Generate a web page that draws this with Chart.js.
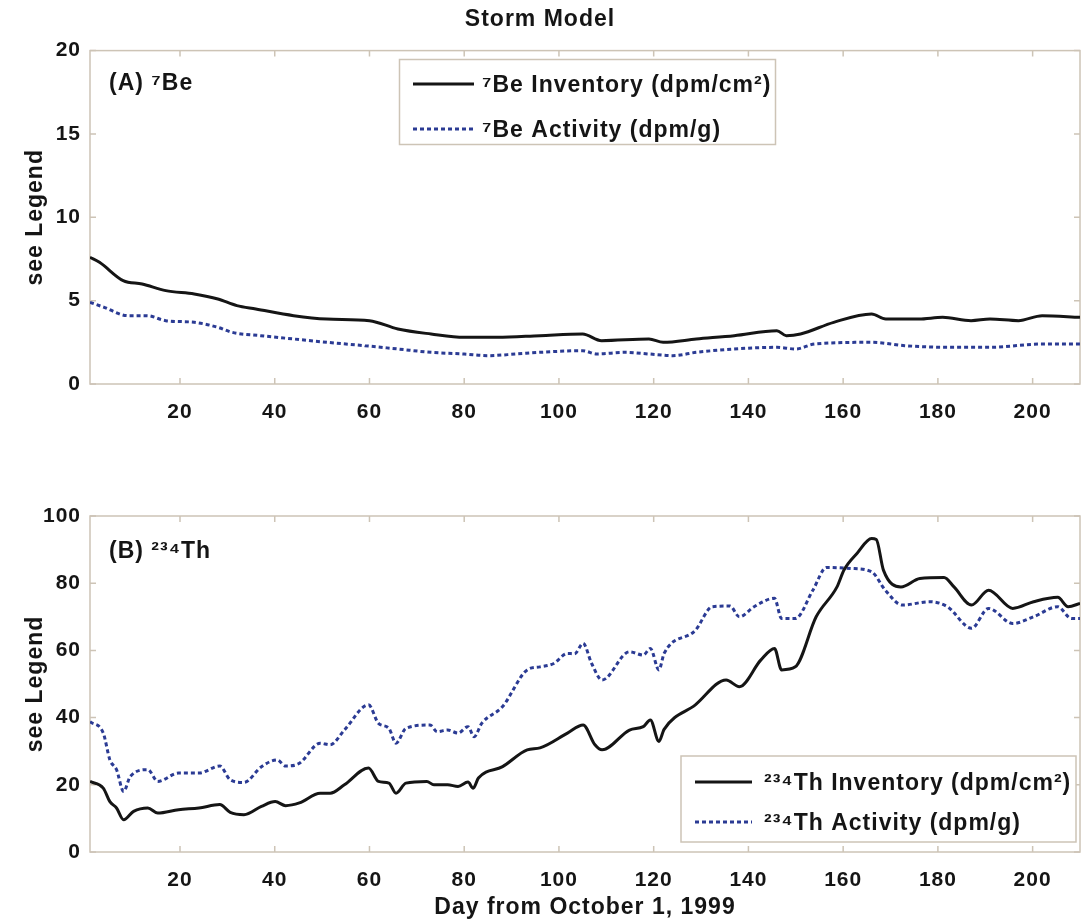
<!DOCTYPE html>
<html>
<head>
<meta charset="utf-8">
<script src="https://cdn.jsdelivr.net/npm/chart.js@4/dist/chart.umd.min.js"></script>
<style>
  html, body { margin: 0; padding: 0; background: #fff; }
  #wrap { position: relative; width: 1081px; height: 921px; }
  #chartA { position: absolute; left: 0; top: 0; }
  #chartB { position: absolute; left: 0; top: 460px; }
</style>
</head>
<body>
<div id="wrap">
  <canvas id="chartA" width="1081" height="460"></canvas>
  <canvas id="chartB" width="1081" height="461"></canvas>
</div>
<script>
// tick labels
const dayTicks = [20, 40, 60, 80, 100, 120, 140, 160, 180, 200];
const beTicks = [0, 5, 10, 15, 20];
const thTicks = [0, 20, 40, 60, 80, 100];

// (A) 7Be
const beInvDays = [1, 3, 8, 12, 17, 23, 28, 32, 36, 44, 51, 60, 66, 73, 80, 87, 96, 105, 109, 119, 122, 129, 137, 146, 148, 151, 158, 166, 169, 176, 181, 187, 191, 197, 202, 210];
const beInventory = [7.6, 7.3, 6.2, 6.0, 5.6, 5.4, 5.1, 4.7, 4.5, 4.1, 3.9, 3.8, 3.3, 3.0, 2.8, 2.8, 2.9, 3.0, 2.6, 2.7, 2.5, 2.7, 2.9, 3.2, 2.9, 3.0, 3.7, 4.2, 3.9, 3.9, 4.0, 3.8, 3.9, 3.8, 4.1, 4.0];
const beActDays = [1, 4, 9, 13, 17, 23, 28, 31, 37, 44, 51, 59, 66, 73, 80, 85, 91, 96, 105, 108, 114, 119, 124, 129, 137, 146, 150, 154, 166, 173, 183, 191, 202, 210];
const beActivity = [4.9, 4.6, 4.1, 4.1, 3.8, 3.7, 3.4, 3.1, 2.9, 2.7, 2.5, 2.3, 2.1, 1.9, 1.8, 1.7, 1.8, 1.9, 2.0, 1.8, 1.9, 1.8, 1.7, 1.9, 2.1, 2.2, 2.1, 2.4, 2.5, 2.3, 2.2, 2.2, 2.4, 2.4];

// (B) 234Th
const thInvDays = [1, 3.8, 5.2, 6.6, 8.1, 10.2, 13.2, 15.3, 19.7, 24, 28.4, 30.6, 33.5, 37.2, 40.1, 42.3, 45.2, 49.6, 51.7, 54.7, 59.8, 61.9, 64.1, 65.6, 67.7, 72.1, 73.6, 76.5, 78.7, 80.8, 81.9, 83, 88.1, 93.3, 96, 101.8, 105.1, 107.6, 109.1, 114.9, 117.8, 119.3, 121.1, 122.2, 128.8, 135.3, 138.1, 142.6, 145.5, 147, 149.9, 154.3, 158.7, 160.2, 163, 166, 167, 168.5, 172.2, 176.2, 181.3, 183.4, 187.1, 190.7, 195.8, 200.2, 205.3, 207.5, 210];
const thInventory = [21, 19, 15, 13.1, 9.6, 12.1, 13.1, 11.6, 12.6, 13.1, 14.1, 11.8, 11.1, 13.6, 15, 13.8, 14.6, 17.5, 17.5, 20, 25, 21, 20.5, 17.5, 20.5, 21, 20, 20, 19.5, 20.8, 19, 22, 25.4, 30.4, 31, 35.4, 37.8, 31.9, 30.4, 36.3, 37.3, 39.3, 32.9, 36.5, 43.8, 51.2, 49.2, 57.1, 60.6, 54.2, 55.1, 70, 78.9, 84, 89, 93.3, 93, 83.9, 78.9, 81.4, 81.7, 78.9, 73.5, 77.9, 72.5, 74.5, 75.8, 73, 74];
const thActDays = [1, 3.8, 5.2, 6.6, 8.1, 9.5, 13.2, 15.3, 19.7, 24, 28.4, 30.6, 33.5, 37.2, 40.5, 42.3, 45.2, 49.6, 51.7, 54.7, 59.8, 61.9, 64.1, 65.6, 67.7, 72.8, 74.3, 76.5, 78.7, 80.8, 82.1, 83.7, 88.1, 93.3, 96, 98.9, 101.8, 103.3, 105.1, 106.9, 109.1, 114.9, 117.8, 119.3, 121.1, 122.2, 128.8, 132.4, 136.1, 138.1, 141.2, 145.5, 147, 149.9, 153.6, 156.5, 161.6, 166, 168.9, 172.5, 178.3, 182, 187.1, 190.7, 195.8, 200.2, 205.3, 208.2, 210];
const thActivity = [38.8, 35.4, 27.4, 24.5, 18, 22.5, 24.5, 21, 23.5, 23.5, 25.6, 21.5, 20.7, 25.4, 27.4, 25.6, 26.4, 32.4, 31.9, 36.3, 43.8, 38.3, 36.8, 32.4, 36.8, 37.8, 35.8, 36.3, 35.4, 37.3, 34.3, 38.3, 43.3, 54.2, 55.1, 56.1, 59.1, 59, 62.1, 56.1, 51.2, 59.6, 58.6, 60.6, 54.2, 59.1, 66, 73, 73.2, 70, 73, 75.5, 69.5, 69.5, 77.9, 84.7, 84.4, 83.4, 77.9, 73.5, 74.5, 73, 66.6, 72.5, 68, 70, 73, 69.5, 69.5];

const FONT = "'Liberation Sans', Arial, Helvetica, sans-serif";
const INK = '#151515';
const BLUE = '#2b3b94';
const FRAME = '#cdc4b6';
const SPACING = '1px';

const toPoints = (xs, ys) => xs.map((x, i) => ({ x: x, y: ys[i] }));

// the scanned figure has slightly spread lettering
const spacingPlugin = {
    id: 'spacing',
    beforeUpdate(chart) { chart.ctx.letterSpacing = SPACING; },
    beforeDraw(chart) { chart.ctx.letterSpacing = SPACING; }
};

// box round the plot plus small inward ticks
const framePlugin = {
    id: 'frame',
    beforeDatasetsDraw(chart) {
        const { ctx, chartArea: a, scales } = chart;
        ctx.save();
        ctx.strokeStyle = FRAME;
        ctx.lineWidth = 1.5;
        ctx.strokeRect(a.left, a.top, a.right - a.left, a.bottom - a.top);
        ctx.beginPath();
        scales.x.ticks.forEach(t => {
            const px = scales.x.getPixelForValue(t.value);
            ctx.moveTo(px, a.bottom); ctx.lineTo(px, a.bottom - 6);
            ctx.moveTo(px, a.top); ctx.lineTo(px, a.top + 6);
        });
        scales.y.ticks.forEach(t => {
            const py = scales.y.getPixelForValue(t.value);
            ctx.moveTo(a.left, py); ctx.lineTo(a.left + 6, py);
            ctx.moveTo(a.right, py); ctx.lineTo(a.right - 6, py);
        });
        ctx.stroke();
        ctx.restore();
    }
};

// bordered legend box and the panel label, drawn on top
const boxLegendPlugin = {
    id: 'boxLegend',
    afterDatasetsDraw(chart, args, opts) {
        const ctx = chart.ctx;
        ctx.save();
        ctx.letterSpacing = SPACING;
        ctx.font = 'bold 23px ' + FONT;
        ctx.textBaseline = 'middle';
        ctx.fillStyle = INK;
        ctx.fillText(opts.panel, opts.panelX, opts.panelY);

        const b = opts.box;
        ctx.fillStyle = '#fff';
        ctx.fillRect(b.x, b.y, b.w, b.h);
        ctx.strokeStyle = FRAME;
        ctx.lineWidth = 1.5;
        ctx.strokeRect(b.x, b.y, b.w, b.h);
        chart.data.datasets.forEach((ds, i) => {
            const y = opts.rows[i];
            ctx.beginPath();
            ctx.strokeStyle = ds.borderColor;
            ctx.lineWidth = ds.borderWidth;
            ctx.setLineDash(ds.borderDash || []);
            ctx.moveTo(opts.lineX0, y);
            ctx.lineTo(opts.lineX1, y);
            ctx.stroke();
            ctx.setLineDash([]);
            ctx.fillStyle = INK;
            ctx.fillText(ds.label, opts.textX, y + 2);
        });
        ctx.restore();
    }
};

function makeChart(id, cfg) {
    const tickFont = { family: FONT, size: 21, weight: 'bold' };
    const titleFont = { family: FONT, size: 23, weight: 'bold' };
    return new Chart(document.getElementById(id), {
        type: 'line',
        data: {
            datasets: [{
                label: cfg.labels[0],
                data: cfg.inv,
                borderColor: INK,
                borderWidth: 3,
                pointRadius: 0,
                cubicInterpolationMode: 'monotone'
            }, {
                label: cfg.labels[1],
                data: cfg.act,
                borderColor: BLUE,
                borderWidth: 3,
                borderDash: [4, 3],
                pointRadius: 0,
                cubicInterpolationMode: 'monotone'
            }]
        },
        options: {
            responsive: false,
            animation: false,
            layout: { padding: { top: cfg.padTop, right: 1, left: 0, bottom: 0 } },
            plugins: {
                legend: { display: false },
                tooltip: { enabled: false },
                title: cfg.title ? {
                    display: true,
                    text: cfg.title,
                    color: INK,
                    font: titleFont,
                    padding: { top: 6, bottom: 17 }
                } : { display: false },
                boxLegend: cfg.legend
            },
            scales: {
                x: {
                    type: 'linear',
                    min: 1,
                    max: 210,
                    afterBuildTicks: s => { s.ticks = dayTicks.map(v => ({ value: v })); },
                    afterFit: s => { s.height = cfg.xHeight; },
                    grid: { display: false },
                    border: { display: false },
                    ticks: { color: INK, font: tickFont, padding: 8, maxRotation: 0 },
                    title: cfg.xTitle ? {
                        display: true,
                        text: cfg.xTitle,
                        color: INK,
                        font: titleFont,
                        padding: { top: 2, bottom: 0 }
                    } : { display: false }
                },
                y: {
                    min: 0,
                    max: cfg.yTicks[cfg.yTicks.length - 1],
                    afterBuildTicks: s => { s.ticks = cfg.yTicks.map(v => ({ value: v })); },
                    afterFit: s => { s.width = 90; },
                    grid: { display: false },
                    border: { display: false },
                    ticks: { color: INK, font: tickFont, padding: 1 },
                    title: {
                        display: true,
                        text: 'see Legend',
                        color: INK,
                        font: titleFont,
                        padding: { top: 22, bottom: 0 }
                    }
                }
            }
        },
        plugins: [spacingPlugin, framePlugin, boxLegendPlugin]
    });
}

makeChart('chartA', {
    title: 'Storm Model',
    padTop: 0,
    xHeight: 76,
    yTicks: beTicks,
    labels: ['\u2077Be Inventory (dpm/cm\u00b2)', '\u2077Be Activity (dpm/g)'],
    inv: toPoints(beInvDays, beInventory),
    act: toPoints(beActDays, beActivity),
    legend: {
        panel: '(A) \u2077Be', panelX: 109, panelY: 84,
        box: { x: 399.5, y: 59.5, w: 376, h: 85 },
        rows: [84, 129], lineX0: 413, lineX1: 474, textX: 482
    }
});

makeChart('chartB', {
    title: null,
    padTop: 56,
    xHeight: 69,
    yTicks: thTicks,
    xTitle: 'Day from October 1, 1999',
    labels: ['\u00b2\u00b3\u2074Th Inventory (dpm/cm\u00b2)', '\u00b2\u00b3\u2074Th Activity (dpm/g)'],
    inv: toPoints(thInvDays, thInventory),
    act: toPoints(thActDays, thActivity),
    legend: {
        panel: '(B) \u00b2\u00b3\u2074Th', panelX: 109, panelY: 92,
        box: { x: 681, y: 296, w: 395, h: 86 },
        rows: [322, 362], lineX0: 695, lineX1: 752, textX: 764
    }
});
</script>
</body>
</html>
